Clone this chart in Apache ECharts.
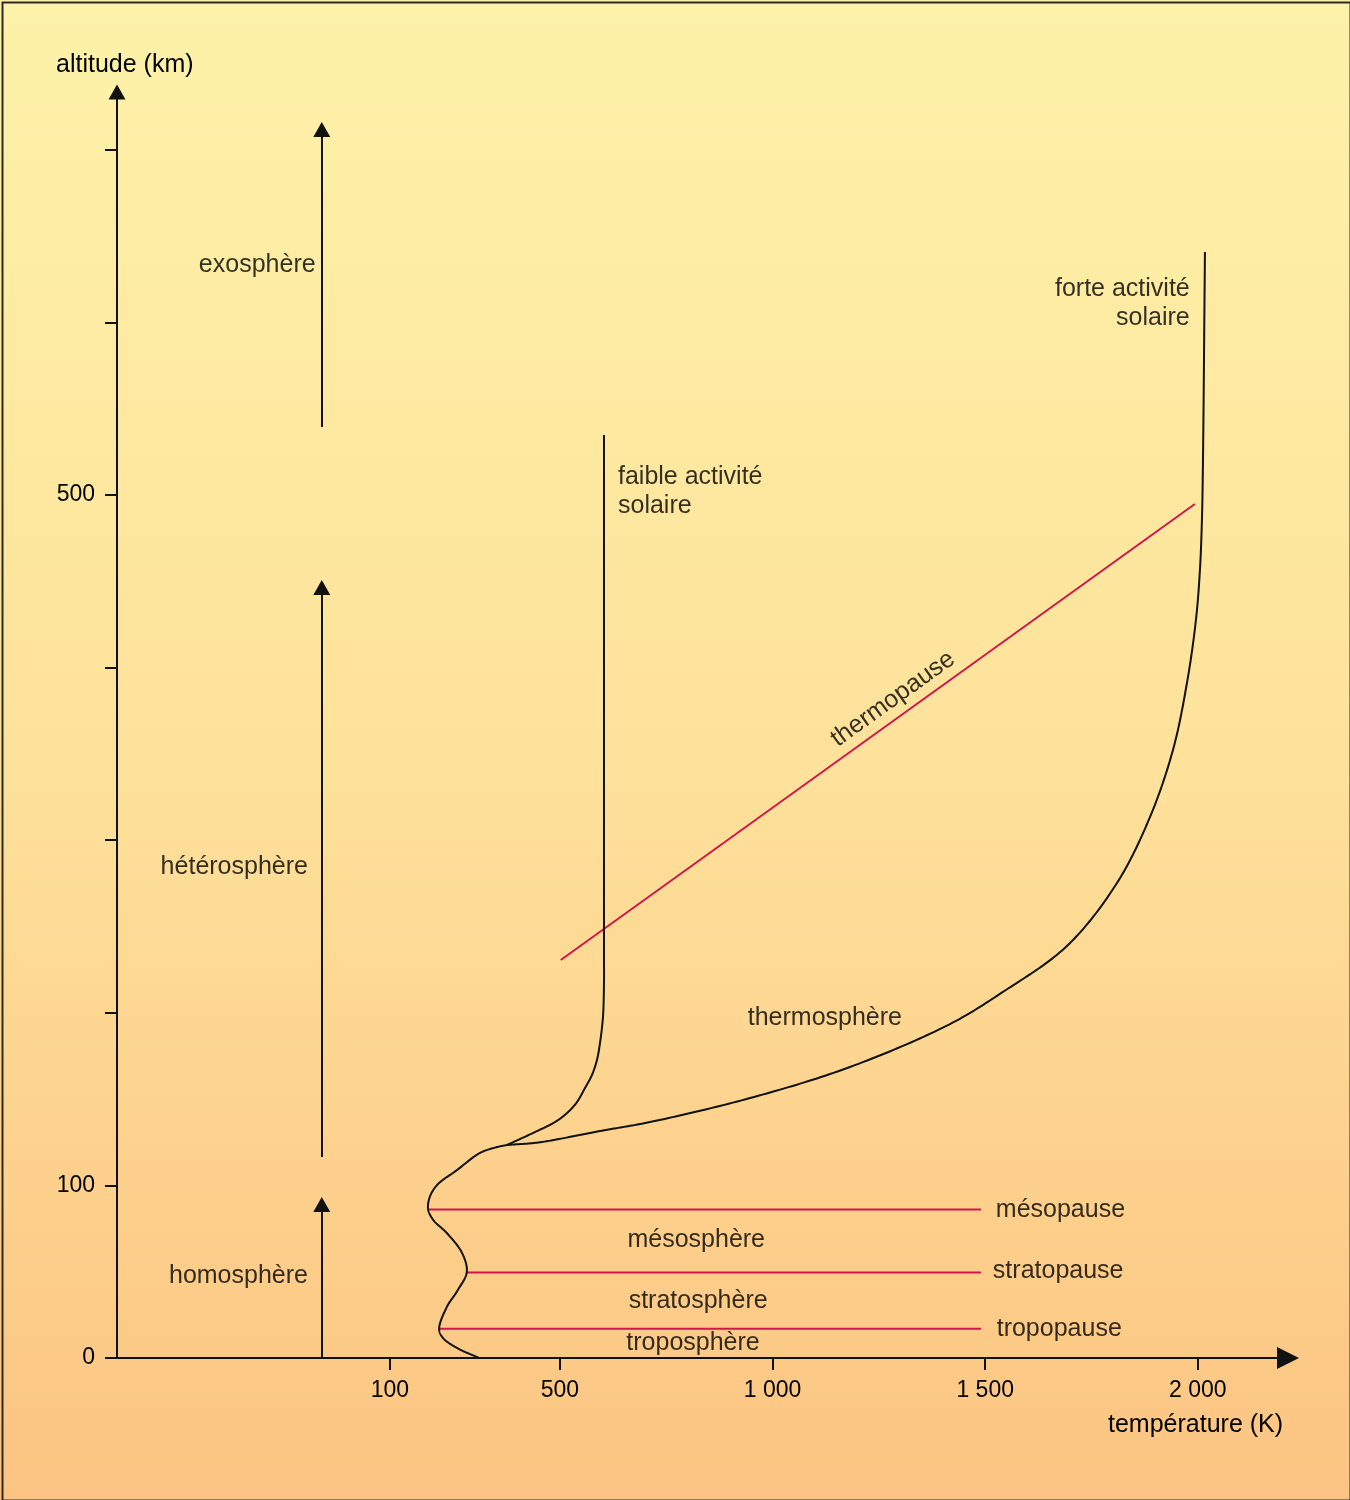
<!DOCTYPE html>
<html>
<head>
<meta charset="utf-8">
<script src="https://cdn.jsdelivr.net/npm/echarts@6/dist/echarts.min.js"></script>
<style>
html,body{margin:0;padding:0;background:#fff;}
#c{width:1350px;height:1500px;}
</style>
</head>
<body>
<div id="c"></div>
<script>
// ---- data (temperature K, altitude km) ----
const xTickValues = [100, 500, 1000, 1500, 2000];
const yTickValues = [0, 100, 200, 300, 400, 500, 600, 700];
const yLabelValues = [0, 100, 500];
const profileLow = [[310,0],[258,5.8],[225,11.6],[216,16.8],[234,29.5],[260,39.4],[281,49.8],[270,60.8],[234,72.4],[202,80],[190,86.3],[194,93.3],[211,100.2],[258,108.9],[312,118.8],[352,122.2],[375.5,123.4]];
const faible = [[375.5,123.4],[441.3,130.9],[488.4,136.7],[516.6,141.9],[540.1,148.3],[558.9,156.4],[575.4,164],[587.1,172.7],[594.2,182.5],[601.2,197.6],[603.6,217.3],[603.6,236.4],[603.6,381.2],[603.6,534.8]];
const forte = [[375.5,123.4],[453,125],[594,131.5],[711.7,136.7],[946.9,150.6],[1182,168.6],[1417.2,193.5],[1541.6,212.1],[1692.2,238.7],[1809.8,275.2],[1887.4,313.4],[1941.5,352.3],[1974.4,391.1],[1995.5,427.6],[2004.9,456.5],[2009.6,485.5],[2012,518.5],[2016.7,640.8]];
const thermopause = [[502,230.6],[1993,494.8]];
const mesopause = [[190,86],[1490,86]];
const stratopause = [[281,49.5],[1490,49.5]];
const tropopause = [[218,17],[1490,17]];
const sphereArrowT = -60;
const sphereArrows = [[0,89],[116.5,446.4],[539.4,711.8]];
const labels = [
  {name:'exosphère', value:[-74.5,633], align:'right'},
  {name:'hétérosphère', value:[-92.5,284.5], align:'right'},
  {name:'homosphère', value:[-92.5,47.5], align:'right'},
  {name:'faible activité\nsolaire', value:[636.5,502], align:'left'},
  {name:'forte activité\nsolaire', value:[1981,611], align:'right'},
  {name:'thermosphère', value:[1123,197], align:'center'},
  {name:'mésosphère', value:[820.5,68.4], align:'center'},
  {name:'stratosphère', value:[825,33], align:'center'},
  {name:'troposphère', value:[813,8.7], align:'center'},
  {name:'mésopause', value:[1525,85.7], align:'left'},
  {name:'stratopause', value:[1518,50.4], align:'left'},
  {name:'tropopause', value:[1527,16.8], align:'left'},
  {name:'thermopause', value:[1283,381.8], align:'center', rotate:35.7}
];

const FONT = '"Liberation Sans", Arial, sans-serif';
const RED = '#d0174b';
const INK = '#000';

const chart = echarts.init(document.getElementById('c'));

// centripetal Catmull-Rom through pixel points (converted by the chart's own axes)
function splinePoints(P){
  const out = [];
  const n = P.length;
  function dist(a,b){ return Math.pow(Math.hypot(b[0]-a[0], b[1]-a[1]), 0.5); }
  out.push(P[0]);
  for (let i=0;i<n-1;i++){
    const p0 = P[i-1] || P[i], p1 = P[i], p2 = P[i+1], p3 = P[i+2] || P[i+1];
    const d1 = dist(p0,p1), d2 = dist(p1,p2), d3 = dist(p2,p3);
    let b1, b2;
    if (d1 < 1e-6) { b1 = [p1[0]+(p2[0]-p1[0])/3, p1[1]+(p2[1]-p1[1])/3]; }
    else {
      const a = d1*d1, b = d2*d2, den = 3*d1*(d1+d2);
      b1 = [0,1].map(function(k){ return (a*p2[k] - b*p0[k] + (2*a + 3*d1*d2 + b)*p1[k]) / den; });
    }
    if (d3 < 1e-6) { b2 = [p2[0]-(p2[0]-p1[0])/3, p2[1]-(p2[1]-p1[1])/3]; }
    else {
      const a = d3*d3, b = d2*d2, den = 3*d3*(d3+d2);
      b2 = [0,1].map(function(k){ return (a*p1[k] - b*p3[k] + (2*a + 3*d3*d2 + b)*p2[k]) / den; });
    }
    const steps = 24;
    for (let s=1;s<=steps;s++){
      const t = s/steps, u = 1-t;
      out.push([
        u*u*u*p1[0] + 3*u*u*t*b1[0] + 3*u*t*t*b2[0] + t*t*t*p2[0],
        u*u*u*p1[1] + 3*u*u*t*b1[1] + 3*u*t*t*b2[1] + t*t*t*p2[1]
      ]);
    }
  }
  return out;
}
function curveSeries(data){
  return {
    type:'custom', silent:true, z:4, clip:false,
    data:[data[0]],
    renderItem:function(params, api){
      const px = data.map(function(d){ return api.coord(d); });
      return {type:'polyline', shape:{points:splinePoints(px)},
        style:{stroke:'#111', lineWidth:2, fill:null, lineJoin:'round'}};
    }
  };
}
function redLine(data){
  return {type:'line', data:data, symbol:'none', lineStyle:{color:RED,width:2}, silent:true, z:3};
}

const option = {
  animation:false,
  backgroundColor: new echarts.graphic.LinearGradient(0,0,0,1,[
    {offset:0,color:'#fdf2a9'},
    {offset:0.5,color:'#fee29b'},
    {offset:1,color:'#fcc482'}
  ]),
  grid:{left:117,right:62,top:92,bottom:142},
  xAxis:{
    type:'value', min:-541.5, max:2212,
    axisLine:{show:true,onZero:false,lineStyle:{color:'#111',width:2},symbol:['none','triangle'],symbolSize:[22,22]},
    axisTick:{show:true,customValues:xTickValues,length:12,lineStyle:{color:'#111',width:2}},
    axisLabel:{customValues:xTickValues,margin:21,fontSize:23,fontFamily:FONT,color:INK,
      formatter:function(v){return v>=1000 ? String(v).replace(/(\d)(\d{3})$/,'$1 $2') : String(v);}},
    splitLine:{show:false}
  },
  yAxis:{
    type:'value', min:0, max:733.5,
    axisLine:{show:true,onZero:false,lineStyle:{color:'#111',width:2},symbol:['none','triangle'],symbolSize:[17,15]},
    axisTick:{show:true,customValues:yTickValues,length:12,lineStyle:{color:'#111',width:2}},
    axisLabel:{customValues:yLabelValues,margin:22,fontSize:23,fontFamily:FONT,color:INK},
    splitLine:{show:false}
  },
  graphic:[
    {type:'rect',left:0,top:0,shape:{width:1348,height:1498},style:{fill:'none',stroke:'#2a2a2a',lineWidth:2},z:100,silent:true,position:[1,1]},
    {type:'text',left:56,top:53,style:{text:'altitude (km)',font:'25px '+FONT,fill:INK}},
    {type:'text',left:1108,top:1413,style:{text:'température (K)',font:'25px '+FONT,fill:INK}}
  ],
  series:[
    curveSeries(profileLow), curveSeries(faible), curveSeries(forte),
    redLine(thermopause), redLine(mesopause), redLine(stratopause), redLine(tropopause),
    {type:'line',data:[],symbol:'none',
      markLine:{silent:true,symbol:['none','triangle'],symbolSize:[17,15],
        label:{show:false},lineStyle:{color:'#111',width:2,type:'solid'},
        data:sphereArrows.map(function(a){return [{coord:[sphereArrowT,a[0]]},{coord:[sphereArrowT,a[1]]}];})}
    },
    {type:'scatter',data:labels.map(function(l){
        return {name:l.name,value:l.value,label:{align:l.align,rotate:l.rotate||0}};
      }),
      symbolSize:0, silent:true, clip:false, z:10,
      label:{show:true,position:'inside',formatter:'{b}',verticalAlign:'middle',
        fontSize:25,lineHeight:29,fontFamily:FONT,color:INK}
    }
  ]
};
chart.setOption(option);
</script>
</body>
</html>
